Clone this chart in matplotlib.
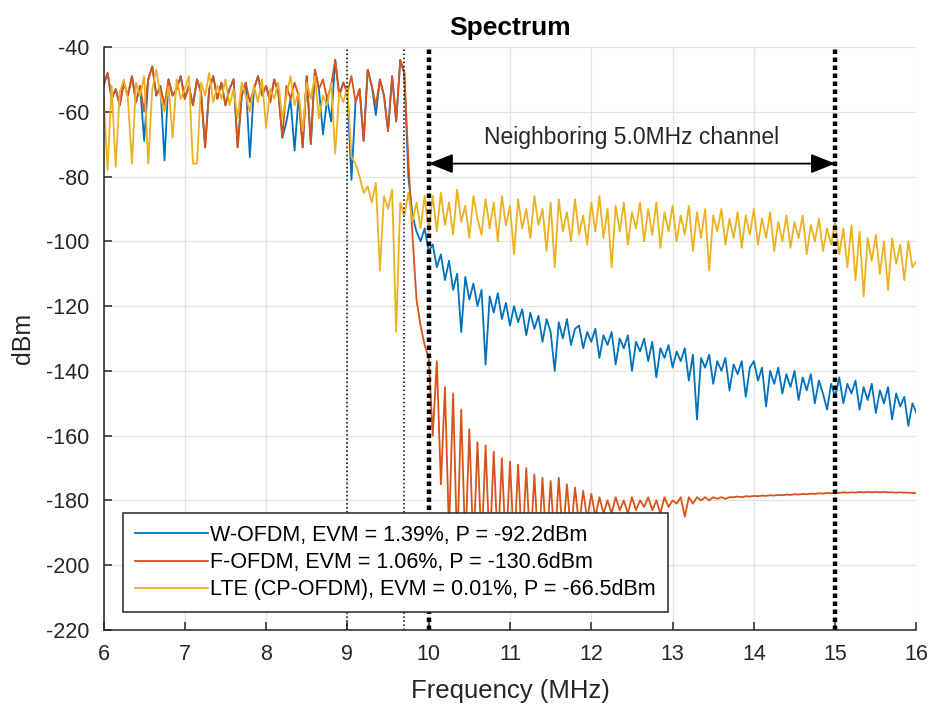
import numpy as np
import matplotlib
matplotlib.use("Agg")
import matplotlib.pyplot as plt

plt.rcParams['font.family'] = ['Liberation Sans', 'DejaVu Sans']
plt.rcParams['axes.unicode_minus'] = False

# spectrum samples, 6..16 MHz every 0.05 MHz (dBm)
lte_dbm = [
    -55, -78, -52, -77, -54, -50, -56, -76, -51, -55, -49, -76, -53, -47, -55, -60,
    -52, -68, -50, -56, -53, -49, -76, -76, -51, -55, -48, -57, -52, -56, -50, -58,
    -53, -62, -51, -55, -60, -52, -57, -50, -65, -53, -56, -51, -62, -55, -49, -58,
    -54, -66, -51, -56, -49, -62, -55, -58, -51, -73, -54, -57, -52,
    -74, -76, -80, -85, -83, -88, -82, -109, -86, -90, -84, -128, -88, -92, -85, -94,
    -88, -96, -86, -97,
    -86, -97, -85, -95, -88, -98, -84, -94, -89, -99, -86, -93, -98, -87, -96, -88,
    -100, -86, -95, -89, -104, -87, -96, -90, -99, -86, -95, -90, -103, -88, -108, -87,
    -97, -91, -100, -87, -98, -92, -101, -88, -97, -86, -99, -90, -108, -89, -97, -88,
    -101, -91, -96, -88, -100, -90, -98, -88, -102, -91, -97, -89, -100, -92, -98, -89,
    -103, -91, -99, -90, -109, -92, -97, -90, -101, -93, -99, -91, -102, -92, -98, -90,
    -101, -93, -99, -91, -103, -94, -100, -92, -102, -94, -99, -92, -104, -95, -100, -93,
    -103, -96, -101, -94,
    -104, -96, -108, -95, -112, -97, -117, -99, -106, -98, -110, -100, -115, -99, -107,
    -101, -112, -100, -108, -106,
]

wofdm_dbm = [
    -52, -48, -56, -53, -58, -51, -55, -49, -57, -52, -69, -50, -46, -55, -52, -75,
    -50, -55, -53, -49, -56, -52, -58, -50, -54, -71, -53, -49, -56, -51, -58, -53,
    -50, -71, -55, -51, -74, -53, -49, -55, -52, -57, -50, -54, -68, -63, -56, -72,
    -55, -71, -49, -70, -47, -53, -67, -56, -63, -44, -55, -51, -54, -81, -57, -53,
    -69, -47, -52, -61, -50, -55, -66, -49, -63, -44, -48,
    -80, -92, -97, -100, -96, -103, -101, -108, -104, -112, -106, -115, -110, -128, -111,
    -118, -113, -120, -115, -138, -117, -122, -116, -124, -119, -126, -120, -125, -121,
    -129, -122, -127, -123, -131, -124, -128, -140, -125, -130, -124, -132, -127, -126,
    -133, -128, -131, -127, -136, -129, -132, -128, -138, -130, -133, -129, -140, -131,
    -134, -130, -137, -131, -142, -133, -136, -132, -139, -134, -137, -133, -143, -135,
    -155, -136, -139, -135, -144, -137, -140, -136, -146, -138, -141, -137, -148, -139,
    -137, -143, -139, -151, -140, -144, -139, -147, -141, -145, -140, -149, -142, -146,
    -141, -150, -143, -147, -152, -144, -148, -142, -150, -144, -147, -143, -152, -145,
    -149, -144, -153, -146, -150, -145, -155, -147, -151, -148, -157, -150, -153,
]

fofdm_dbm = [
    -52, -48, -56, -53, -58, -51, -55, -49, -57, -52, -60, -50, -46, -55, -52, -58,
    -50, -55, -53, -49, -56, -52, -58, -50, -54, -71, -53, -49, -56, -51, -58, -53,
    -50, -71, -55, -51, -57, -53, -49, -55, -52, -57, -50, -54, -68, -52, -56, -51,
    -55, -71, -49, -70, -47, -53, -50, -56, -52, -44, -55, -51, -54, -49, -57, -53,
    -69, -47, -52, -58, -50, -55, -66, -49, -63, -44, -48,
    -75, -98, -118, -126, -132, -136, -160, -137, -175, -145, -190, -147, -195, -152,
    -195, -158, -196, -162, -195, -163, -196, -165, -195, -167, -196, -168, -195, -169,
    -196, -170, -195, -172, -196, -173, -195, -174, -194, -173, -192, -175, -190, -176,
    -188, -177, -186, -178, -185, -179, -184, -180, -184, -179, -183, -180, -184, -179,
    -183, -180, -182, -179, -183, -180, -184, -179, -182, -180, -181, -179, -185, -179,
    -181, -179, -180, -179, -180, -179, -179.5, -179, -179.5, -179, -179, -178.8, -179,
    -178.7, -178.8, -178.6, -178.7, -178.5, -178.6, -178.4, -178.5, -178.3, -178.4,
    -178.2, -178.3, -178.1, -178.2, -178.0, -178.1, -177.9, -178.0, -177.8, -177.9,
    -177.7, -177.8, -177.6,
    -177.7, -177.5, -177.6, -177.5, -177.6, -177.4, -177.5, -177.4, -177.5, -177.4,
    -177.5, -177.4, -177.5, -177.5, -177.6, -177.5, -177.6, -177.6, -177.7, -177.7,
]

labels = ['W-OFDM, EVM = 1.39%, P = -92.2dBm',
          'F-OFDM, EVM = 1.06%, P = -130.6dBm',
          'LTE (CP-OFDM), EVM = 0.01%, P = -66.5dBm']
colors = ['#0072BD', '#D95319', '#EDB120']

band_edges = [9.0, 9.7]      # thin dotted
channel_edges = [10.0, 15.0]  # thick dotted

freq = np.linspace(6, 16, len(lte_dbm))

fig = plt.figure(figsize=(9.35, 7.08), dpi=100)
ax = fig.add_axes([0.1107, 0.1102, 0.8695, 0.8234])

for vals, c, lab in zip([wofdm_dbm, fofdm_dbm, lte_dbm], colors, labels):
    ax.plot(freq, vals, color=c, lw=1.3, label=lab)

for xv in band_edges:
    ax.axvline(xv, color='k', ls=':', lw=1.1)
for xv in channel_edges:
    ax.axvline(xv, color='k', ls=(0, (1, 0.8)), lw=3.2)

ax.annotate('', xy=(15, -76), xytext=(10, -76),
            arrowprops=dict(arrowstyle='<|-|>,head_length=0.75,head_width=0.3',
                            color='k', lw=1.3, mutation_scale=20,
                            shrinkA=0, shrinkB=0))
ax.text(12.5, -67.8, 'Neighboring 5.0MHz channel', ha='center', va='center',
        fontsize=16.5, color='#262626')

ax.set_xlim(6, 16)
ax.set_ylim(-220, -40)
ax.set_xticks(range(6, 17))
ax.set_yticks(range(-220, -39, 20))
ax.grid(True, color='#e3e3e3', lw=0.9)
ax.set_axisbelow(True)
for s in ['top', 'right']:
    ax.spines[s].set_visible(False)
for s in ['left', 'bottom']:
    ax.spines[s].set_color('#262626')
    ax.spines[s].set_linewidth(1.1)
ax.tick_params(direction='in', length=6, width=1.1, colors='#262626',
               labelsize=15.5, pad=10)

ax.set_xlabel('Frequency (MHz)', fontsize=18.5, color='#262626', labelpad=10)
ax.set_ylabel('dBm', fontsize=18, color='#262626', labelpad=8)
ax.set_title('Spectrum', fontsize=19, fontweight='bold', color='k', pad=9)

leg = ax.legend(loc='lower left', bbox_to_anchor=(0.024, 0.031), fontsize=15.5,
                handlelength=3.4, handletextpad=0.1, labelspacing=0.28,
                borderpad=0.55, fancybox=False, framealpha=1, edgecolor='#262626',
                borderaxespad=0)
leg.get_frame().set_linewidth(1.1)

fig.savefig('out.png', dpi=100)
